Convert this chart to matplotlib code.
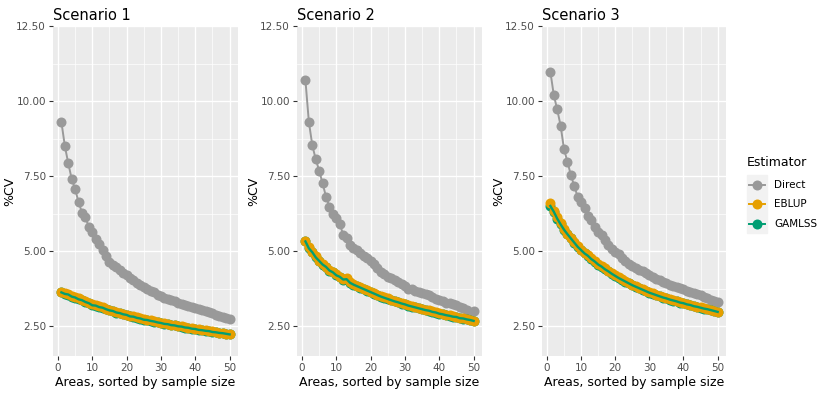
import numpy as np
import matplotlib
matplotlib.use("Agg")
import matplotlib.pyplot as plt
from matplotlib.lines import Line2D
from matplotlib.patches import Rectangle

# ── Data ───────────────────────────────────────────────────────
areas = list(range(1, 51))

direct_s1 = [9.30, 8.50, 7.92, 7.40, 7.06, 6.63, 6.28, 6.12, 5.80, 5.62,
             5.40, 5.22, 5.02, 4.82, 4.65, 4.52, 4.46, 4.38, 4.28, 4.20,
             4.10, 4.02, 3.95, 3.87, 3.80, 3.72, 3.66, 3.62, 3.55, 3.50,
             3.45, 3.40, 3.36, 3.32, 3.28, 3.25, 3.21, 3.18, 3.14, 3.11,
             3.07, 3.04, 3.01, 2.98, 2.93, 2.88, 2.84, 2.79, 2.76, 2.74]
eblup_s1 = [3.64, 3.60, 3.56, 3.51, 3.46, 3.42, 3.37, 3.33, 3.27, 3.22,
            3.19, 3.16, 3.12, 3.08, 3.04, 3.01, 2.98, 2.94, 2.91, 2.88,
            2.85, 2.82, 2.79, 2.76, 2.74, 2.71, 2.69, 2.66, 2.64, 2.61,
            2.59, 2.57, 2.55, 2.53, 2.51, 2.49, 2.47, 2.45, 2.43, 2.41,
            2.39, 2.37, 2.36, 2.34, 2.32, 2.30, 2.28, 2.27, 2.25, 2.23]
gamlss_s1 = [3.62, 3.57, 3.55, 3.48, 3.45, 3.39, 3.36, 3.30, 3.26, 3.19,
             3.18, 3.13, 3.11, 3.06, 3.02, 3.00, 2.95, 2.93, 2.89, 2.87,
             2.82, 2.81, 2.77, 2.75, 2.71, 2.70, 2.67, 2.65, 2.62, 2.60,
             2.57, 2.56, 2.53, 2.52, 2.49, 2.48, 2.45, 2.44, 2.41, 2.40,
             2.37, 2.36, 2.34, 2.33, 2.30, 2.29, 2.27, 2.26, 2.24, 2.22]

direct_s2 = [10.70, 9.31, 8.53, 8.06, 7.68, 7.26, 6.81, 6.48, 6.22, 6.10,
             5.90, 5.55, 5.44, 5.20, 5.10, 5.02, 4.92, 4.85, 4.76, 4.66,
             4.58, 4.42, 4.31, 4.22, 4.14, 4.10, 4.04, 3.98, 3.90, 3.82,
             3.75, 3.72, 3.68, 3.64, 3.60, 3.58, 3.55, 3.47, 3.40, 3.36,
             3.32, 3.28, 3.26, 3.23, 3.20, 3.14, 3.10, 3.04, 2.95, 3.01]
eblup_s2 = [5.34, 5.12, 4.98, 4.82, 4.68, 4.58, 4.48, 4.38, 4.30, 4.22,
            4.15, 4.08, 4.10, 3.96, 3.90, 3.85, 3.80, 3.75, 3.70, 3.65,
            3.60, 3.55, 3.50, 3.46, 3.42, 3.38, 3.34, 3.31, 3.27, 3.24,
            3.20, 3.17, 3.14, 3.11, 3.08, 3.05, 3.03, 2.99, 2.96, 2.93,
            2.91, 2.88, 2.86, 2.83, 2.81, 2.78, 2.76, 2.73, 2.71, 2.68]
gamlss_s2 = [5.32, 5.09, 4.96, 4.79, 4.67, 4.55, 4.47, 4.35, 4.29, 4.19,
             4.14, 4.05, 4.06, 3.94, 3.88, 3.83, 3.78, 3.73, 3.68, 3.63,
             3.58, 3.53, 3.48, 3.44, 3.40, 3.36, 3.32, 3.29, 3.25, 3.22,
             3.18, 3.15, 3.12, 3.09, 3.06, 3.03, 3.01, 2.97, 2.95, 2.91,
             2.89, 2.86, 2.84, 2.81, 2.80, 2.76, 2.75, 2.72, 2.70, 2.67]

direct_s3 = [10.98, 10.20, 9.72, 9.18, 8.39, 7.98, 7.53, 7.17, 6.80, 6.62,
             6.42, 6.18, 6.05, 5.80, 5.62, 5.55, 5.38, 5.20, 5.08, 4.98,
             4.90, 4.78, 4.66, 4.58, 4.50, 4.43, 4.37, 4.32, 4.26, 4.20,
             4.14, 4.08, 4.02, 3.98, 3.93, 3.88, 3.84, 3.80, 3.76, 3.72,
             3.67, 3.63, 3.59, 3.56, 3.52, 3.48, 3.43, 3.38, 3.34, 3.31]
eblup_s3 = [6.61, 6.35, 6.12, 5.92, 5.75, 5.58, 5.45, 5.30, 5.17, 5.05,
            4.95, 4.86, 4.76, 4.67, 4.58, 4.50, 4.42, 4.34, 4.26, 4.19,
            4.12, 4.06, 4.00, 3.94, 3.88, 3.83, 3.78, 3.73, 3.68, 3.63,
            3.59, 3.55, 3.51, 3.47, 3.43, 3.40, 3.37, 3.33, 3.30, 3.27,
            3.24, 3.21, 3.18, 3.15, 3.12, 3.09, 3.07, 3.04, 3.01, 2.98]
gamlss_s3 = [6.50, 6.31, 6.08, 5.89, 5.71, 5.56, 5.42, 5.28, 5.14, 5.03,
             4.92, 4.84, 4.73, 4.65, 4.55, 4.48, 4.39, 4.32, 4.24, 4.17,
             4.10, 4.04, 3.98, 3.92, 3.86, 3.81, 3.76, 3.71, 3.66, 3.61,
             3.57, 3.53, 3.49, 3.45, 3.42, 3.38, 3.35, 3.32, 3.28, 3.26,
             3.22, 3.20, 3.16, 3.14, 3.11, 3.08, 3.06, 3.03, 3.00, 2.97]

scenarios = ["Scenario 1", "Scenario 2", "Scenario 3"]
estimators = ["Direct", "EBLUP", "GAMLSS"]
x_ticks = [0, 10, 20, 30, 40, 50]
y_ticks = [2.5, 5.0, 7.5, 10.0, 12.5]

GREY   = "#999999"
ORANGE = "#E69F00"
GREEN  = "#009E73"
TEXT   = "#4D4D4D"
MS     = 7.2

series = [
    (direct_s1, eblup_s1, gamlss_s1),
    (direct_s2, eblup_s2, gamlss_s2),
    (direct_s3, eblup_s3, gamlss_s3),
]

W, H = 830, 393
fig = plt.figure(figsize=(W / 100, H / 100), dpi=100)
fig.patch.set_facecolor("white")

# panel boxes in pixels: (left, right)
panel_px = [(53, 238), (297, 482), (542, 726)]
top_px, bot_px = 26, 356

for (l, r), title, (d, e, g) in zip(panel_px, scenarios, series):
    ax = fig.add_axes([l / W, (H - bot_px) / H, (r - l) / W, (bot_px - top_px) / H])
    ax.set_facecolor("#EBEBEB")
    for s in ax.spines.values():
        s.set_visible(False)

    ax.set_xlim(-1.45, 52.45)
    ax.set_ylim(1.5, 12.5)
    ax.set_xticks(x_ticks)
    ax.set_xticks([5, 15, 25, 35, 45], minor=True)
    ax.set_yticks(y_ticks)
    ax.set_yticks([3.75, 6.25, 8.75, 11.25], minor=True)
    ax.set_yticklabels([f"{v:.2f}" for v in y_ticks])
    ax.grid(which="major", color="white", linewidth=1.0)
    ax.grid(which="minor", color="white", linewidth=0.5)
    ax.set_axisbelow(True)
    ax.tick_params(which="major", length=3, width=0.8, color="#333333",
                   labelsize=7.5, labelcolor=TEXT, pad=2)
    ax.tick_params(which="minor", length=0)

    ax.plot(areas, d, color=GREY, lw=1.4, marker="o", ms=MS, mec="none", zorder=3)
    ax.plot(areas, g, color=GREEN, lw=0, marker="o", ms=MS, mec="none", zorder=3)
    ax.plot(areas, e, color=ORANGE, lw=1.4, marker="o", ms=MS, mec="none", zorder=4)
    ax.plot(areas, g, color=GREEN, lw=1.7, zorder=5)

    ax.set_xlabel("Areas, sorted by sample size", fontsize=9, color="black", labelpad=2)
    ax.set_ylabel("%CV", fontsize=9, color="black")
    ax.yaxis.set_label_coords(-37 / (r - l), 0.5)
    ax.set_title(title, loc="left", fontsize=10.5, pad=4)

# ── Legend ─────────────────────────────────────────────────────
fig.text(747 / W, 1 - 163 / H, "Estimator", fontsize=9, va="center", ha="left")
fig.patches.append(Rectangle((747 / W, 1 - 233 / H), 20 / W, 58 / H,
                             transform=fig.transFigure, color="#F2F2F2", zorder=0))
for name, col, yk in zip(estimators, [GREY, ORANGE, GREEN], [185, 204.5, 224]):
    fig.lines.append(Line2D([749 / W, 765 / W], [1 - yk / H] * 2, color=col, lw=1.4,
                            transform=fig.transFigure))
    fig.lines.append(Line2D([757 / W], [1 - yk / H], color=col, marker="o", ms=MS,
                            mec="none", transform=fig.transFigure))
    fig.text(774 / W, 1 - yk / H, name, fontsize=7.5, va="center", ha="left")

fig.savefig("out.png", dpi=100)
